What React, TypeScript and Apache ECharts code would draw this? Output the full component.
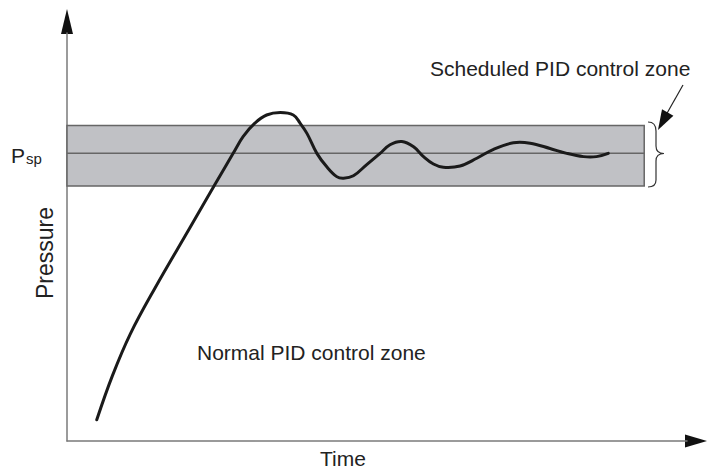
import React, { useEffect, useRef } from "react";
import * as echarts from "echarts";

// Response curve (time, pressure) in arbitrary units (0..100 on each axis)
const times = [4.8, 7.3, 10.2, 14.2, 19.8, 23.9, 26.8, 28.4, 30.3, 32.2, 34.4, 36.5, 37.6, 38.7, 40.3, 41.9, 43.5, 44.6, 46.2, 48.3, 50.5, 52.1, 54.0, 55.9, 57.5, 59.1, 60.7, 63.4, 66.1, 68.8, 72.0, 74.7, 77.9, 80.6, 83.3, 85.4, 87.3];
const pressures = [5.2, 15.9, 26.2, 37.5, 52.2, 63.0, 70.5, 74.6, 77.9, 79.9, 80.5, 79.9, 77.9, 75.4, 70.5, 67.2, 64.8, 64.4, 65.0, 67.7, 70.5, 72.6, 73.4, 72.1, 69.7, 67.9, 67.1, 67.4, 69.3, 71.5, 73.1, 73.0, 71.7, 70.5, 69.7, 69.7, 70.5];

// Scheduled PID zone band
const bandLow = 62.5;
const bandHigh = 77.3;
const setpoint = 70.5;
const bandEnd = 93.1;
const setpointX = [0, bandEnd];

const labels = {
  scheduled: "Scheduled PID control zone",
  normal: "Normal PID control zone",
  time: "Time",
  pressure: "Pressure",
  p: "P",
  sp: "sp",
};

const braceD =
  "M648,122 C653,122 656,125 656,131 L656,146 C656,151 659,153.5 664,153.5 C659,153.5 656,156 656,161 L656,180 C656,185 653,187 648,187";
echarts.graphic.registerShape("brace", echarts.graphic.extendPath(braceD, {}));

const FONT = "Liberation Sans, Arial, Helvetica, sans-serif";

function smoothPath(pts: number[][], s: number): string {
  let d = `M${pts[0][0]},${pts[0][1]}`;
  const n = pts.length;
  const dist = (a: number[], b: number[]) => Math.hypot(b[0] - a[0], b[1] - a[1]);
  const cps: { inP: number[]; outP: number[] }[] = pts.map((p, i) => {
    if (i === 0 || i === n - 1) return { inP: p, outP: p };
    const prev = pts[i - 1];
    const next = pts[i + 1];
    const vx = next[0] - prev[0];
    const vy = next[1] - prev[1];
    const dp = dist(prev, p);
    const dn = dist(p, next);
    const rn = dn / (dp + dn);
    return {
      inP: [p[0] - vx * s * (1 - rn), p[1] - vy * s * (1 - rn)],
      outP: [p[0] + vx * s * rn, p[1] + vy * s * rn],
    };
  });
  for (let i = 1; i < n; i++) {
    const a = cps[i - 1].outP;
    const b = cps[i].inP;
    d += ` C${a[0]},${a[1]} ${b[0]},${b[1]} ${pts[i][0]},${pts[i][1]}`;
  }
  return d;
}

export default function App() {
  const ref = useRef<HTMLDivElement>(null);
  useEffect(() => {
    if (!ref.current) return;
    const chart = echarts.init(ref.current, null, { renderer: "svg" });
    const axisCommon = {
      type: "value" as const,
      min: 0,
      max: 100,
      axisLine: { show: true, lineStyle: { color: "#7a7a7a", width: 1.5 } },
      axisTick: { show: false },
      axisLabel: { show: false },
      splitLine: { show: false },
    };
    chart.setOption({
      animation: false,
      backgroundColor: "#ffffff",
      grid: { left: 67, top: 33, width: 620, height: 408 },
      xAxis: { ...axisCommon },
      yAxis: { ...axisCommon },
      series: [
        {
          type: "line",
          data: setpointX.map((x) => [x, setpoint]),
          showSymbol: false,
          lineStyle: { color: "#666666", width: 1.5 },
          z: 2,
          markArea: {
            silent: true,
            itemStyle: { color: "#c0c1c5", borderColor: "#666666", borderWidth: 1.5 },
            data: [[{ coord: [0, bandHigh] }, { coord: [bandEnd, bandLow] }]],
          },
        },
        {
          type: "custom",
          data: times.map((t, i) => [t, pressures[i]]),
          z: 3,
          renderItem: (params: any, api: any) => {
            if (params.dataIndex !== 0) return null;
            const pts = times.map((t, i) => api.coord([t, pressures[i]]));
            return {
              type: "path",
              shape: { pathData: smoothPath(pts, 0.38) },
              style: { fill: "none", stroke: "#1a1a1a", lineWidth: 3, lineCap: "round", lineJoin: "round" },
            };
          },
        },
      ],
      graphic: [
        { type: "polygon", shape: { points: [[67, 9], [61, 34], [73, 34]] }, style: { fill: "#111" } },
        { type: "polygon", shape: { points: [[707, 441], [685, 434.5], [685, 447.5]] }, style: { fill: "#111" } },
        { type: "brace", x: 0, y: 0, style: { fill: "none", stroke: "#333", lineWidth: 1.2 } },
        { type: "line", shape: { x1: 683, y1: 85, x2: 666, y2: 115 }, style: { stroke: "#222", lineWidth: 1.2 } },
        { type: "polygon", shape: { points: [[658, 130], [662, 109.3], [673.4, 115.7]] }, style: { fill: "#111" } },
        {
          type: "text", x: 430, y: 68,
          style: { text: labels.scheduled, fontFamily: FONT, fontSize: 21, fill: "#222", align: "left", verticalAlign: "middle" },
        },
        {
          type: "text", x: 197, y: 352,
          style: { text: labels.normal, fontFamily: FONT, fontSize: 21, fill: "#222", align: "left", verticalAlign: "middle" },
        },
        {
          type: "text", x: 343, y: 458,
          style: { text: labels.time, fontFamily: FONT, fontSize: 21, fill: "#222", align: "center", verticalAlign: "middle" },
        },
        {
          type: "text", x: 45, y: 253, rotation: Math.PI / 2,
          style: { text: labels.pressure, fontFamily: FONT, fontSize: 23, fill: "#222", align: "center", verticalAlign: "middle" },
        },
        {
          type: "text", x: 11, y: 155,
          style: { text: labels.p, fontFamily: FONT, fontSize: 21, fill: "#222", align: "left", verticalAlign: "middle" },
        },
        {
          type: "text", x: 26, y: 158,
          style: { text: labels.sp, fontFamily: FONT, fontSize: 15, fill: "#222", align: "left", verticalAlign: "middle" },
        },
      ],
    });
    return () => chart.dispose();
  }, []);
  return (
    <div
      ref={ref}
      style={{ position: "absolute", left: 0, top: 0, width: 708, height: 469 }}
    />
  );
}
